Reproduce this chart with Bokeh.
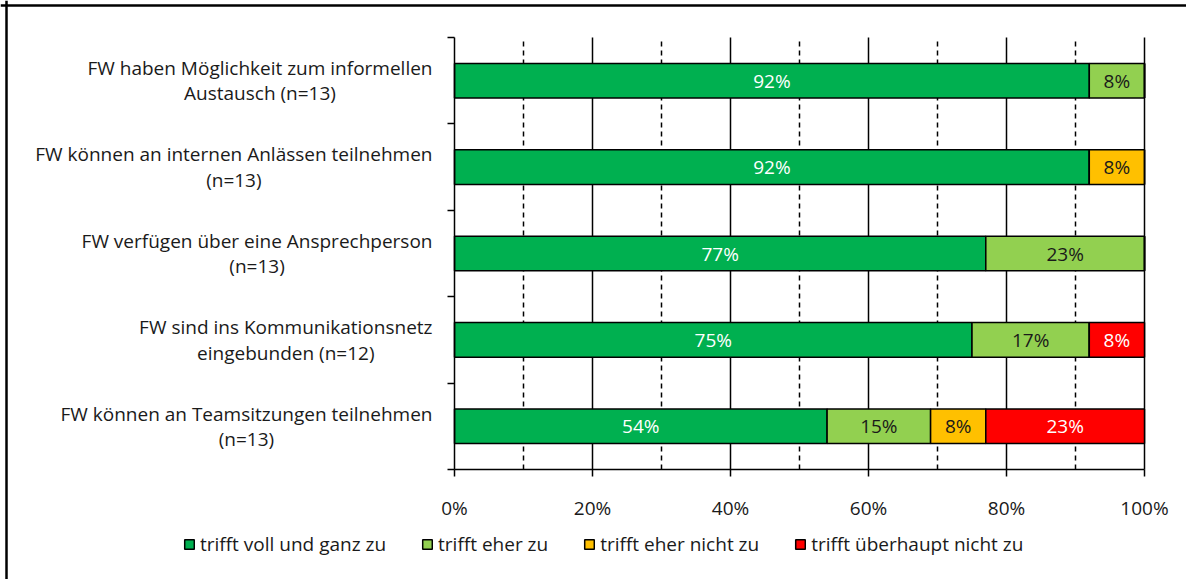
import numpy as np
from bokeh.plotting import figure
from bokeh.models import (ColumnDataSource, FixedTicker, Range1d, Span,
                          Legend, PrintfTickFormatter)
from bokeh.core.properties import value
from bokeh.embed import file_html
from bokeh.resources import INLINE

# ---- data (top to bottom) ----
categories = [
    "FW haben Möglichkeit zum informellen\nAustausch (n=13)",
    "FW können an internen Anlässen teilnehmen\n(n=13)",
    "FW verfügen über eine Ansprechperson\n(n=13)",
    "FW sind ins Kommunikationsnetz\neingebunden (n=12)",
    "FW können an Teamsitzungen teilnehmen\n(n=13)",
]
series_names = ["trifft voll und ganz zu", "trifft eher zu",
                "trifft eher nicht zu", "trifft überhaupt nicht zu"]
voll_und_ganz = [92, 92, 77, 75, 54]
eher_zu = [8, 0, 23, 17, 15]
eher_nicht = [0, 8, 0, 0, 8]
ueberhaupt_nicht = [0, 0, 0, 8, 23]
x_ticks = [0, 20, 40, 60, 80, 100]
x_solid = [20, 40, 60, 80, 100]
x_dashed = [10, 30, 50, 70, 90]

colors = ["#00B050", "#92D050", "#FFC000", "#FF0000"]
text_colors = ["white", "#1a1a1a", "#1a1a1a", "white"]
FONT = "Open Sans"
FS = "19px"
TXT = "#1a1a1a"

n = len(categories)
ypos = list(range(n, 0, -1))          # top category at n
y_bounds = [i + 0.5 for i in range(n + 1)]
y_lo, y_hi = 0.5, n + 0.5

# layout: canvas W x H; plot area placement in px
W, H = 1186, 579
PL, PR, PT, PB = 454, 1144, 37, 469
sx = (PR - PL) / 100.0
sy = (PB - PT) / (y_hi - y_lo)
x_range = Range1d(0 - PL / sx, 100 + (W - PR) / sx)
y_range = Range1d(y_lo - (H - PB) / sy, y_hi + PT / sy)

p = figure(width=W, height=H, output_backend="svg", toolbar_location=None,
           x_range=x_range, y_range=y_range, min_border=0)
p.outline_line_color = None
p.grid.visible = False

# chart border (left and top edges of the chart box)
p.add_layout(Span(location=0 - (PL - 6) / sx, dimension="height",
                  line_color="black", line_width=2.5))
p.add_layout(Span(location=y_hi + (PT - 5) / sy, dimension="width",
                  line_color="black", line_width=2.5))

# grid lines (within plot area only)
p.segment(x0=x_solid, x1=x_solid, y0=[y_lo] * len(x_solid), y1=[y_hi] * len(x_solid),
          line_color="black", line_width=1.5)
p.segment(x0=x_dashed, x1=x_dashed, y0=[y_lo] * len(x_dashed), y1=[y_hi] * len(x_dashed),
          line_color="black", line_width=1.5, line_dash="5 4")

all_series = [voll_und_ganz, eher_zu, eher_nicht, ueberhaupt_nicht]
left = np.zeros(n)
renderers = []
for vals, name, col, tcol in zip(all_series, series_names, colors, text_colors):
    vals = np.array(vals, dtype=float)
    src = ColumnDataSource(dict(y=ypos, left=left, right=left + vals))
    r = p.hbar(y="y", left="left", right="right", height=0.4, source=src,
               fill_color=col, line_color="black", line_width=1.5)
    renderers.append((name, r))
    mask = vals > 0
    lsrc = ColumnDataSource(dict(
        x=list((left + vals / 2)[mask]), y=list(np.array(ypos)[mask]),
        t=[f"{int(v)}%" for v in vals[mask]]))
    p.text(x="x", y="y", text="t", source=lsrc, text_align="center",
           text_baseline="middle", text_color=tcol, text_font=value(FONT),
           text_font_size=FS)
    left = left + vals

# category labels: block right-anchored next to the axis, lines centered
csrc = ColumnDataSource(dict(x=[0] * n, y=ypos, t=categories))
p.text(x="x", y="y", text="t", source=csrc, x_offset=-22, anchor="center_right",
       text_align="center", text_baseline="middle", text_color=TXT,
       text_font=value(FONT), text_font_size=FS, text_line_height=0.97)

# x axis at the bottom of the plot area
xa = p.xaxis[0]
xa.fixed_location = y_lo
xa.bounds = (0, 100)
xa.ticker = FixedTicker(ticks=x_ticks)
xa.formatter = PrintfTickFormatter(format="%d%%")
xa.axis_line_color = "black"
xa.axis_line_width = 1.5
xa.major_tick_line_width = 1.5
xa.major_tick_out = 7
xa.major_tick_in = 0
xa.minor_tick_line_color = None
xa.major_label_standoff = 18
xa.major_label_text_font = FONT
xa.major_label_text_font_size = FS
xa.major_label_text_color = TXT

# y axis at x = 0, ticks between categories
ya = p.yaxis[0]
ya.fixed_location = 0
ya.bounds = (y_lo, y_hi)
ya.ticker = FixedTicker(ticks=y_bounds)
ya.major_label_overrides = {v: "" for v in y_bounds}
ya.axis_line_color = "black"
ya.axis_line_width = 1.5
ya.major_tick_in = 0
ya.major_tick_out = 7
ya.major_tick_line_width = 1.5
ya.minor_tick_line_color = None

legend = Legend(items=[(nm, [r]) for nm, r in renderers],
                orientation="horizontal", location=(183, 22),
                glyph_width=12, glyph_height=12, label_standoff=5, spacing=35,
                padding=0, margin=0, border_line_color=None,
                background_fill_alpha=0,
                label_text_font=FONT, label_text_font_size=FS,
                label_text_color=TXT)
p.add_layout(legend, "center")

open("out.html", "w").write(file_html(p, INLINE))
